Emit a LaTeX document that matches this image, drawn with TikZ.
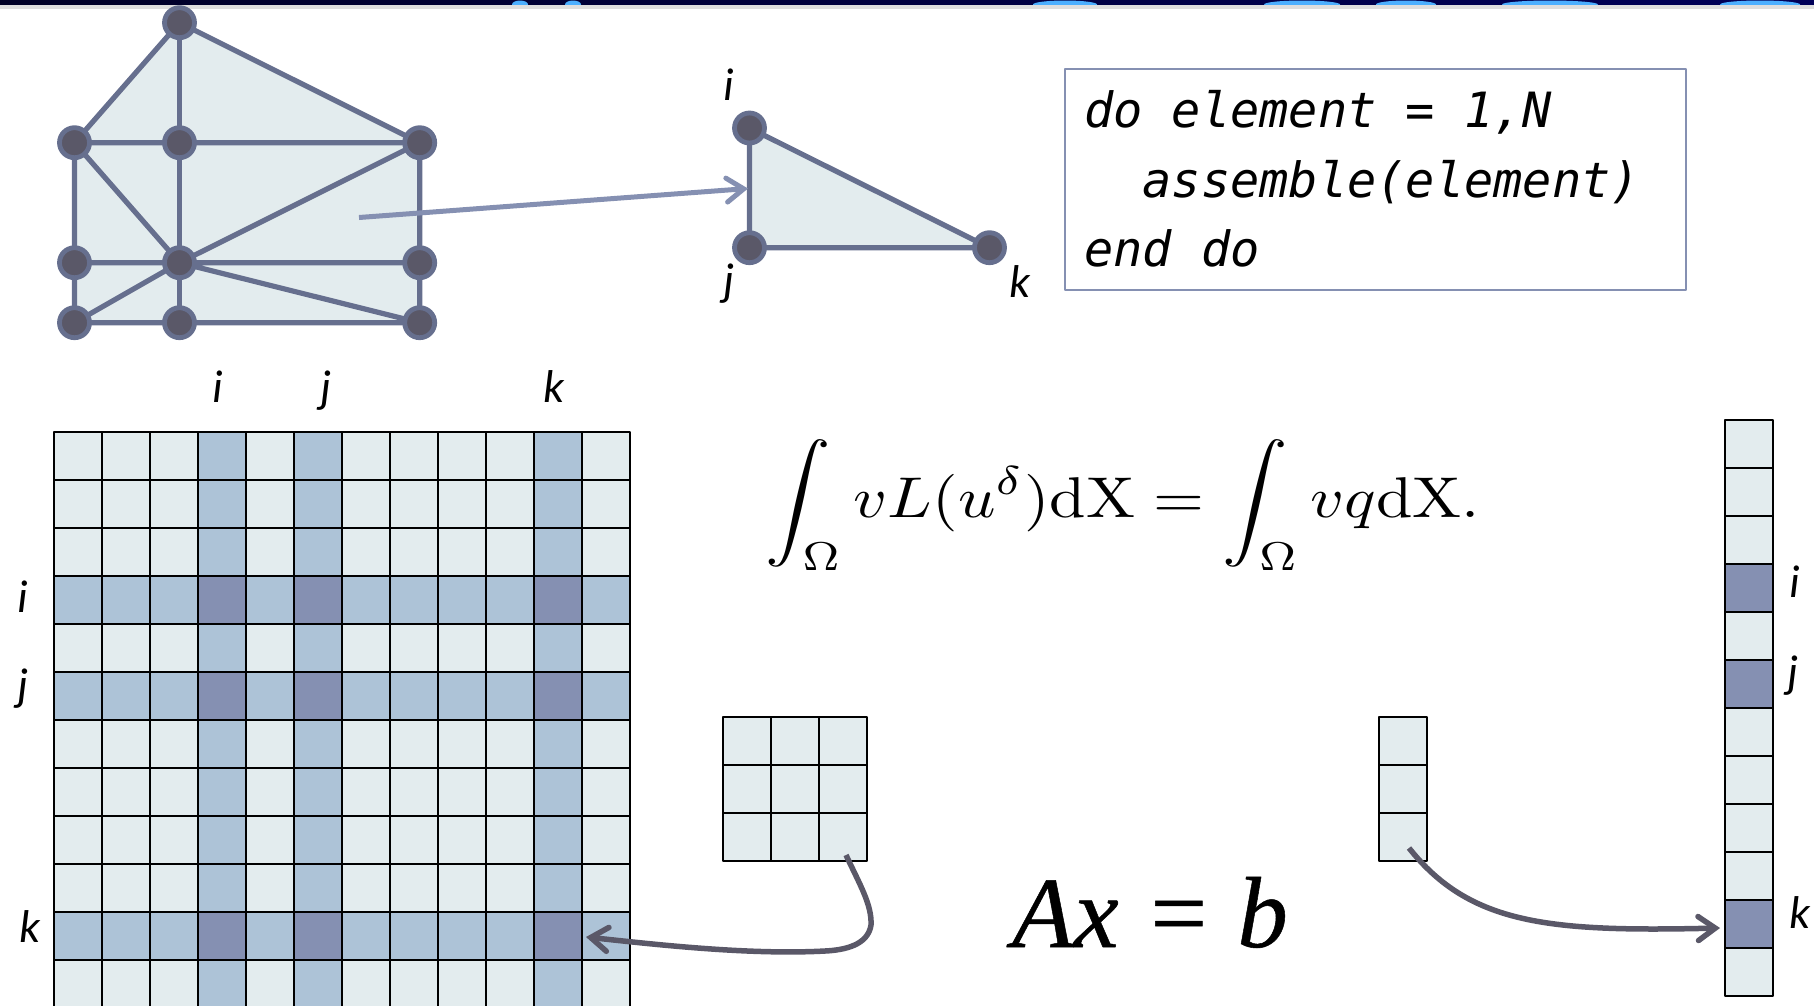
\documentclass[tikz,border=0pt]{standalone}
\usepackage{fontspec}
\setmonofont{DejaVu Sans Mono}
\newfontfamily\labelfont{Carlito}
\newfontfamily\bigfont[FakeBold=0.5]{Liberation Serif}
\usetikzlibrary{arrows.meta}
\definecolor{paleblue}{HTML}{E3ECEE}
\definecolor{midblue}{HTML}{ADC3D7}
\definecolor{darkblue}{HTML}{8590B2}
\definecolor{meshline}{HTML}{666F8E}
\definecolor{meshdot}{HTML}{5A5868}
\tikzset{
	cell0/.style={draw=black, line width=2pt, fill=paleblue, minimum size=48pt, inner sep=0pt, outer sep=0pt},
	cell1/.style={cell0, fill=midblue},
	cell2/.style={cell0, fill=darkblue},
	meshpt/.style={circle, draw=meshline, fill=meshdot, line width=4.8pt, minimum size=30pt, inner sep=0pt},
	indexlabel/.style={anchor=base, font=\labelfont\itshape\fontsize{46}{46}\selectfont},
	codebox/.style={draw=darkblue, line width=2pt, anchor=north west, minimum width=621pt, minimum height=221pt, text width=583pt, inner xsep=18pt, inner ysep=0pt, align=flush left, font=\ttfamily\itshape\fontsize{48.6}{69.5}\selectfont},
}
\begin{document}
\begin{tikzpicture}[x=1pt, y=-1pt, line join=round, line cap=round, >={Straight Barb[length=17pt, width=24pt, line cap=round]}]
	
	\useasboundingbox (0,0) rectangle (1814,1005);
	\clip (0,0) rectangle (1814,1005);
	
	% strip along the top
	\fill[left color=black!85!blue, right color=blue!35!black] (0,0) rectangle (1814,4.5);
	\fill[black!13] (0,4.5) rectangle (1814,8.5);
	\begin{scope}
		\clip (0,0) rectangle (1814,4.5);
		\foreach \x/\w in {520/8, 573/8, 1065/32, 1302/38, 1406/30, 1550/48, 1760/40} {
			\fill[blue!45!cyan!70] (\x,4.5) ellipse (\w pt and 4pt);
		}
	\end{scope}
	
	% mesh
	\fill[paleblue] (179.5,22.7) -- (419.7,142.7) -- (419.7,322.7) -- (74.5,322.7) -- (74.5,142.7) -- cycle;
	\foreach \name/\x/\y in {a/179.5/22.7, b/74.5/142.7, c/179.5/142.7, d/419.7/142.7, e/74.5/262.7, f/179.5/262.7, g/419.7/262.7, h/74.5/322.7, l/179.5/322.7, m/419.7/322.7} {
		\coordinate (\name) at (\x,\y);
	}
	\draw[meshline, line width=5.2pt] (a) -- (b) -- (e) -- (h) -- (l) -- (m) -- (g) -- (d) -- cycle;
	\draw[meshline, line width=5.2pt] (a) -- (c) -- (f) -- (l);
	\draw[meshline, line width=5.2pt] (b) -- (d) (b) -- (f) (e) -- (g) (h) -- (f) -- (d) (f) -- (m);
	\foreach \name in {a,b,c,d,e,f,g,h,l,m} {
		\node[meshpt] (\name pt) at (\name) {};
	}
	
	% one element
	\coordinate (ti) at (749.5,128);
	\coordinate (tj) at (749.5,247.7);
	\coordinate (tk) at (989.5,247.7);
	\fill[paleblue] (ti) -- (tj) -- (tk) -- cycle;
	\draw[meshline, line width=5.2pt] (ti) -- (tj) -- (tk) -- cycle;
	\foreach \name in {ti,tj,tk} {
		\node[meshpt] (\name pt) at (\name) {};
	}
	\node[indexlabel] (tilabel) at (729,100) {i};
	\node[indexlabel] (tjlabel) at (729,295) {j};
	\node[indexlabel] (tklabel) at (1020,297) {k};
	
	\coordinate (meshstart) at (359,217.5);
	\coordinate (meshend) at (748,188.5);
	\draw[->, darkblue, line width=5pt, line cap=butt] (meshstart) -- (meshend);
	
	% code
	\node[codebox] (code) at (1064,67.5) {do element = 1,N\\\ \ assemble(element)\\end do};
	
	% global matrix
	\foreach \r in {0,...,11} {
		\foreach \c in {0,...,11} {
			\pgfmathtruncatemacro{\hits}{(\r==3||\r==5||\r==10)+(\c==3||\c==5||\c==10)}
			\node[cell\hits] (A\r-\c) at ({77.5+48*\c},{455.5+48*\r}) {};
		}
	}
	\foreach \name/\x in {i/218, j/326, k/554} {
		\node[indexlabel] (top\name) at (\x,402) {\name};
	}
	\node[indexlabel] (lefti) at (23,612) {i};
	\node[indexlabel] (leftj) at (23,700) {j};
	\node[indexlabel] (leftk) at (30,942) {k};
	
	% element matrix
	\foreach \r in {0,1,2} {
		\foreach \c in {0,1,2} {
			\node[cell0] (E\r-\c) at ({746.5+48*\c},{740.5+48*\r}) {};
		}
	}
	
	% element vector
	\foreach \r in {0,1,2} {
		\node[cell0] (v\r) at (1403,{740.5+48*\r}) {};
	}
	
	% global vector
	\foreach \r in {0,...,11} {
		\pgfmathtruncatemacro{\hits}{2*(\r==3||\r==5||\r==10)}
		\node[cell\hits] (B\r) at (1749,{443.5+48*\r}) {};
	}
	\node[indexlabel] (righti) at (1795,597) {i};
	\node[indexlabel] (rightj) at (1793,687) {j};
	\node[indexlabel] (rightk) at (1800,928) {k};
	
	% equations
	\node[xscale=6.55, yscale=5.75] (weak) at (1123,505) {$\displaystyle\int_\Omega vL(u^\delta)\mathrm{dX}=\int_\Omega vq\mathrm{dX}.$};
	\node[anchor=base, font=\bigfont\itshape\fontsize{101}{101}\selectfont] (axb) at (1150,947) {Ax = b};
	
	% arrows
	\coordinate (Estart) at (846,855);
	\coordinate (Eend) at (586,937);
	\coordinate (vstart) at (1409,848);
	\coordinate (vend) at (1720,928);
	\draw[->, meshdot, line width=5.5pt, line cap=butt] (Estart) .. controls (860,885) and (872,905) .. (871,925) .. controls (868,945) and (845,950) .. (825,951) .. controls (750,955) and (660,945) .. (Eend);
	\draw[->, meshdot, line width=5.5pt, line cap=butt] (vstart) .. controls (1470,925) and (1550,932) .. (vend);
	
\end{tikzpicture}
\end{document}
